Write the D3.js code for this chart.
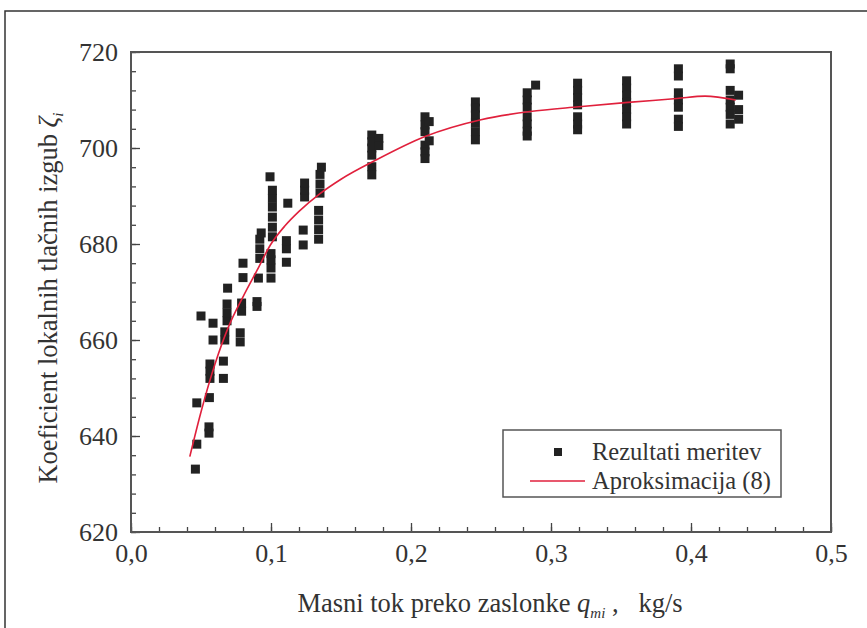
<!DOCTYPE html>
<html>
<head>
<meta charset="utf-8">
<script src="https://cdn.jsdelivr.net/npm/d3@7"></script>
<style>
  body { margin: 0; background: #fff; }
  svg text { font-family: "Liberation Serif", "Times New Roman", "DejaVu Serif", serif; fill: #333; white-space: pre; }
</style>
</head>
<body>
<script>
// measured points (mass flow q, loss coefficient zeta)
var measQ = [
  0.046, 0.047, 0.047, 0.050, 0.0557, 0.0557, 0.056, 0.0564, 0.0564, 0.0564, 0.0586, 0.0586,
  0.066, 0.066, 0.067, 0.067, 0.0686, 0.0686, 0.0686, 0.069,
  0.078, 0.078, 0.079, 0.079, 0.080, 0.080,
  0.090, 0.090, 0.091, 0.092, 0.092, 0.092, 0.093,
  0.100, 0.100, 0.100, 0.100, 0.0993, 0.101, 0.101, 0.101, 0.101, 0.101, 0.101,
  0.111, 0.111, 0.111, 0.112, 0.123, 0.123, 0.124, 0.124, 0.124,
  0.134, 0.134, 0.134, 0.134, 0.135, 0.135, 0.135, 0.136,
  0.172, 0.172, 0.172, 0.172, 0.172, 0.172, 0.177, 0.177,
  0.21, 0.21, 0.21, 0.21, 0.21, 0.21, 0.213, 0.213,
  0.246, 0.246, 0.246, 0.246, 0.246, 0.246,
  0.283, 0.283, 0.283, 0.283, 0.283, 0.283, 0.283, 0.289,
  0.319, 0.319, 0.319, 0.319, 0.319, 0.319, 0.319,
  0.354, 0.354, 0.354, 0.354, 0.354, 0.354, 0.354,
  0.391, 0.391, 0.391, 0.391, 0.391, 0.391, 0.391,
  0.428, 0.428, 0.428, 0.428, 0.428, 0.428, 0.428, 0.434, 0.434, 0.434
];
var measZeta = [
  633.1, 638.3, 646.9, 665.0, 640.6, 641.9, 648.0, 652.0, 653.5, 655.0, 660.0, 663.5,
  652.0, 655.6, 660.0, 661.7, 664.0, 665.7, 667.5, 670.8,
  659.6, 661.5, 666.0, 667.7, 673.0, 676.0,
  667.0, 668.0, 672.9, 677.0, 679.0, 681.0, 682.3,
  672.9, 675.0, 676.7, 678.0, 694.0, 681.5, 683.5, 685.6, 687.7, 689.5, 691.2,
  676.2, 679.0, 680.7, 688.5, 679.8, 682.9, 689.8, 691.2, 692.7,
  681.0, 683.0, 685.0, 687.0, 690.6, 692.5, 694.5, 696.0,
  702.7, 701.3, 700.0, 698.5, 696.1, 694.4, 702.0, 700.5,
  706.5, 704.8, 703.4, 700.6, 699.2, 697.8, 705.5, 701.5,
  709.6, 708.3, 706.9, 705.2, 703.4, 701.7,
  711.5, 710.0, 708.5, 706.5, 705.0, 703.5, 702.5, 713.1,
  713.5, 712.0, 710.5, 709.0, 706.5, 705.0, 703.8,
  714.0, 712.5, 711.0, 709.5, 708.0, 706.5, 705.0,
  716.5, 715.0, 711.5, 710.0, 708.5, 706.0, 704.5,
  717.5, 716.5, 712.0, 710.0, 708.5, 707.0, 705.0, 711.0, 708.0, 706.0
];

// approximation curve (8)
var fitQ    = [0.042, 0.05, 0.06, 0.07, 0.08, 0.09, 0.10, 0.11, 0.12, 0.135, 0.15, 0.175, 0.21, 0.25, 0.285, 0.32, 0.355, 0.39, 0.41, 0.432];
var fitZeta = [635.7, 645.0, 655.0, 663.0, 669.0, 674.5, 680.0, 683.8, 686.8, 690.5, 693.5, 697.5, 702.4, 705.9, 707.6, 708.6, 709.5, 710.3, 710.8, 710.0];

var xTicks = [0, 0.1, 0.2, 0.3, 0.4, 0.5];
var yTicks = [620, 640, 660, 680, 700, 720];
var legendLabels = ["Rezultati meritev", "Aproksimacija (8)"];

var W = 867, H = 628;
var m = { left: 131, top: 52, right: 36, bottom: 96 };

var svg = d3.select("body").append("svg").attr("width", W).attr("height", H);

// outer frame (cropped on right and bottom)
svg.append("path")
    .attr("d", "M5," + H + "V11H" + W)
    .attr("fill", "none").attr("stroke", "#333").attr("stroke-width", 1.5);

var x = d3.scaleLinear().domain([0, 0.5]).range([m.left, W - m.right]);
var y = d3.scaleLinear().domain([620, 720]).range([H - m.bottom, m.top]);

var fmt = function(d) { return d3.format(".1f")(d).replace(".", ","); };

// minor ticks
svg.append("g").attr("transform", "translate(0," + y(620) + ")")
    .call(d3.axisBottom(x).tickValues(d3.range(0, 0.501, 0.02)).tickSize(-5).tickFormat(""))
    .call(function(g) { g.select(".domain").remove(); g.selectAll("line").attr("stroke", "#444").attr("stroke-width", 1.3); });
svg.append("g").attr("transform", "translate(" + x(0) + ",0)")
    .call(d3.axisLeft(y).tickValues(d3.range(620, 720.1, 4)).tickSize(-5).tickFormat(""))
    .call(function(g) { g.select(".domain").remove(); g.selectAll("line").attr("stroke", "#444").attr("stroke-width", 1.3); });

// major ticks + labels
var xa = svg.append("g").attr("transform", "translate(0," + y(620) + ")")
    .call(d3.axisBottom(x).tickValues(xTicks).tickSize(-9).tickPadding(12).tickFormat(fmt));
var ya = svg.append("g").attr("transform", "translate(" + x(0) + ",0)")
    .call(d3.axisLeft(y).tickValues(yTicks).tickSize(-9).tickPadding(13).tickFormat(d3.format("d")));
[xa, ya].forEach(function(g) {
  g.select(".domain").remove();
  g.selectAll("line").attr("stroke", "#444").attr("stroke-width", 1.3);
  g.selectAll("text").attr("font-size", 26).attr("fill", "#333");
});
ya.selectAll("text").attr("dy", "0.33em");

// plot box
svg.append("rect")
    .attr("x", x(0)).attr("y", y(720))
    .attr("width", x(0.5) - x(0)).attr("height", y(620) - y(720))
    .attr("fill", "none").attr("stroke", "#555").attr("stroke-width", 2);

// measurement squares
var sz = 9;
svg.append("g").selectAll("rect")
    .data(d3.range(measQ.length))
    .enter()
    .append("rect")
    .attr("x", function(i) { return x(measQ[i]) - sz / 2; })
    .attr("y", function(i) { return y(measZeta[i]) - sz / 2; })
    .attr("width", sz).attr("height", sz)
    .attr("fill", "#222");

// approximation line
var line = d3.line()
    .x(function(i) { return x(fitQ[i]); })
    .y(function(i) { return y(fitZeta[i]); })
    .curve(d3.curveMonotoneX);
svg.append("path")
    .attr("d", line(d3.range(fitQ.length)))
    .attr("fill", "none").attr("stroke", "#e0203c").attr("stroke-width", 1.6);

// legend
var lg = svg.append("g");
lg.append("rect").attr("x", 503).attr("y", 430).attr("width", 278).attr("height", 67)
    .attr("fill", "#fff").attr("stroke", "#555").attr("stroke-width", 1.5);
lg.append("rect").attr("x", 554).attr("y", 448).attr("width", 8).attr("height", 8).attr("fill", "#222");
lg.append("line").attr("x1", 530).attr("x2", 585).attr("y1", 481).attr("y2", 481)
    .attr("stroke", "#e0203c").attr("stroke-width", 1.6);
lg.selectAll("text.lbl").data(legendLabels).enter().append("text")
    .attr("x", 592).attr("y", function(d, i) { return 460 + i * 29; })
    .attr("font-size", 24.5)
    .text(function(d) { return d; });

// axis titles
var xt = svg.append("text").attr("x", 490).attr("y", 612).attr("text-anchor", "middle").attr("font-size", 26.5);
xt.append("tspan").text("Masni tok preko zaslonke ");
xt.append("tspan").attr("font-style", "italic").text("q");
xt.append("tspan").attr("font-style", "italic").attr("font-size", 15).attr("dy", 6).text("mi");
xt.append("tspan").attr("dy", -6).text(" ,   kg/s");

var yt = svg.append("text").attr("transform", "translate(57,298) rotate(-90)")
    .attr("text-anchor", "middle").attr("font-size", 26.5);
yt.append("tspan").text("Koeficient lokalnih tlačnih izgub ");
yt.append("tspan").attr("font-style", "italic").text("ζ");
yt.append("tspan").attr("font-style", "italic").attr("font-size", 15).attr("dy", 6).text("i");
</script>
</body>
</html>
